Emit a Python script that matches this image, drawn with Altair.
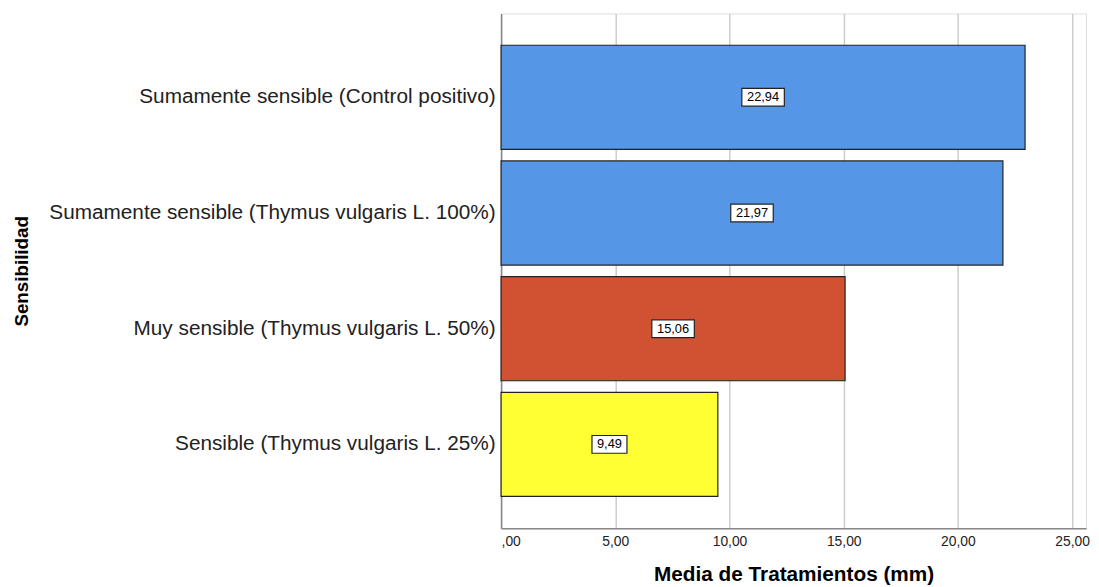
import altair as alt
import pandas as pd

categories = [
    "Sumamente sensible (Control positivo)",
    "Sumamente sensible (Thymus vulgaris L. 100%)",
    "Muy sensible (Thymus vulgaris L. 50%)",
    "Sensible (Thymus vulgaris L. 25%)",
]
values = [22.94, 21.97, 15.06, 9.49]
labels = ["22,94", "21,97", "15,06", "9,49"]
colors = ["#5596E6", "#5596E6", "#D15233", "#FFFF33"]

df = pd.DataFrame({"cat": categories, "value": values, "label": labels, "color": colors})

XMAX = 25.61
W = 592
H = 521
px = XMAX / W  # data units per pixel

y_enc = alt.Y(
    "cat:N",
    sort=categories,
    scale=alt.Scale(paddingInner=0.1, paddingOuter=0.275),
    axis=alt.Axis(
        title="Sensibilidad",
        titleFont="Liberation Sans",
        titleFontSize=19,
        titleFontWeight="bold",
        titleColor="#000000",
        titleAngle=-90,
        titleX=-485,
        titleY=H / 2,
        titleAlign="center",
        titleBaseline="middle",
        labelFont="Liberation Sans",
        labelFontSize=21,
        labelColor="#222222",
        labelPadding=6,
        labelLimit=520,
        ticks=False,
        domainColor="#888888",
        domainWidth=1.5,
        grid=False,
    ),
)

x_scale = alt.Scale(domain=[0, XMAX], nice=False, zero=True)

bars = alt.Chart(df).mark_bar(stroke="#222222", strokeWidth=1.2).encode(
    x=alt.X(
        "value:Q",
        scale=x_scale,
        axis=alt.Axis(
            title="Media de Tratamientos (mm)",
            titleFont="Liberation Sans",
            titleFontSize=21,
            titleFontWeight="bold",
            titleColor="#000000",
            titleY=53,
            titleBaseline="alphabetic",
            values=[0, 5, 10, 15, 20, 25],
            labelExpr="replace(format(datum.value, '.2f'), '.', ',') == '0,00' ? ',00' : replace(format(datum.value, '.2f'), '.', ',')",
            labelFont="Liberation Sans",
            labelFontSize=14,
            labelColor="#222222",
            labelPadding=6,
            ticks=False,
            domainColor="#888888",
            domainWidth=1.5,
            grid=True,
            gridColor="#CCCCCC",
            gridWidth=1.5,
        ),
    ),
    y=y_enc,
    color=alt.Color("color:N", scale=None),
)

boxes = alt.Chart(df).transform_calculate(
    hw=f"(length(datum.label) * 7.6 + 5) / 2 * {px}",
    x1="datum.value / 2 - datum.hw",
    x2="datum.value / 2 + datum.hw",
).mark_bar(height=18, fill="white", stroke="#222222", strokeWidth=1.2).encode(
    x=alt.X("x1:Q", scale=x_scale),
    x2="x2:Q",
    y=alt.Y("cat:N", sort=categories),
)

texts = alt.Chart(df).transform_calculate(
    mid="datum.value / 2"
).mark_text(font="Liberation Sans", fontSize=13, color="#000000", baseline="middle", align="center").encode(
    x=alt.X("mid:Q", scale=x_scale),
    y=alt.Y("cat:N", sort=categories),
    text="label:N",
)

chart = alt.layer(bars, boxes, texts).properties(
    width=W,
    height=H,
    autosize=alt.AutoSizeParams(type="none"),
    padding={"left": 499, "top": 2, "right": 5, "bottom": 60},
).configure_view(stroke=None).configure(background="white")

chart.save("out.html", embed_options={"renderer": "svg", "actions": False})
